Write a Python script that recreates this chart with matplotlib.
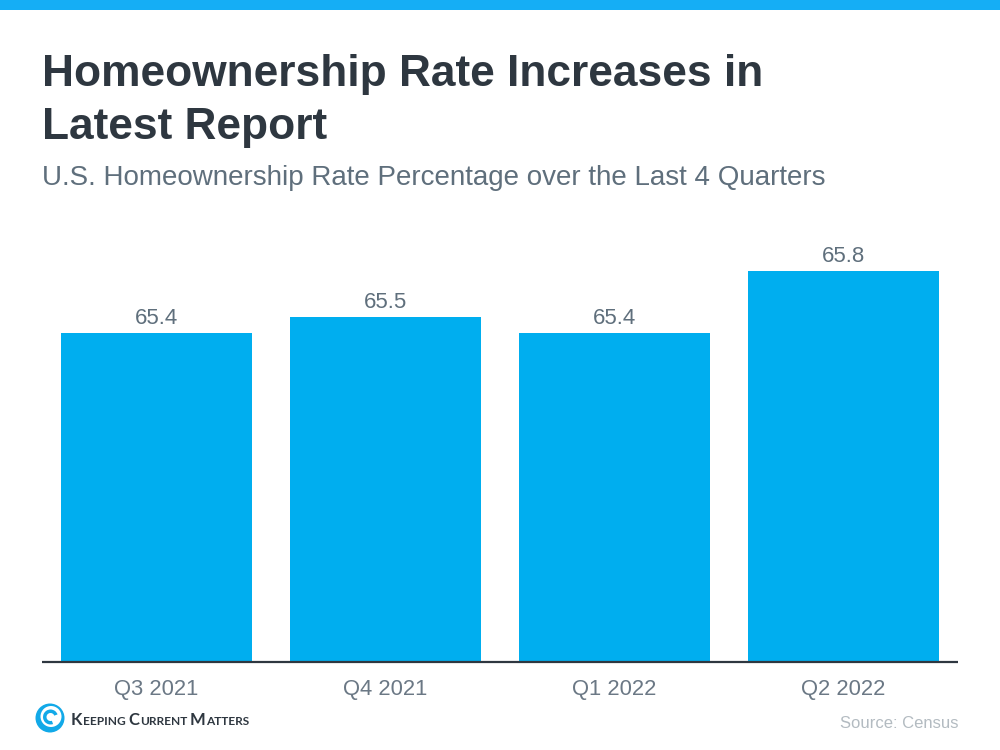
import matplotlib
matplotlib.use('Agg')
import matplotlib.pyplot as plt
from matplotlib.patches import Rectangle, Circle, Wedge

quarters = ['Q3 2021', 'Q4 2021', 'Q1 2022', 'Q2 2022']
rates = [65.4, 65.5, 65.4, 65.8]
value_labels = ['65.4', '65.5', '65.4', '65.8']

BLUE = '#00aeef'
DARK = '#2e3740'
GREY = '#5f6f7c'
TICK = '#6b7885'

plt.rcParams['font.family'] = ['Liberation Sans', 'DejaVu Sans']

fig = plt.figure(figsize=(10, 7.5), dpi=100)
W, H = 1000, 750

# top band
fig.add_artist(Rectangle((0, 1 - 10 / H), 1, 10 / H, transform=fig.transFigure, color='#15aef5', lw=0))

fig.text(42 / W, 1 - 86 / H, 'Homeownership Rate Increases in', fontsize=31.85, fontweight='bold', color=DARK)
fig.text(42 / W, 1 - 139 / H, 'Latest Report', fontsize=31.85, fontweight='bold', color=DARK)
fig.text(42 / W, 1 - 185 / H, 'U.S. Homeownership Rate Percentage over the Last 4 Quarters', fontsize=20, color=GREY)

# axes: baseline at y=662, one unit of rate is about 155 px
ax = fig.add_axes([42 / W, 1 - 662 / H, 916 / W, 422 / H])
ax.bar(range(len(quarters)), rates, width=0.834, color=BLUE, linewidth=0)
ax.set_xlim(-0.5, 3.5)
ax.set_ylim(63.277, 63.277 + 422 / 155)
ax.set_xticks(range(len(quarters)))
ax.set_xticklabels(quarters, fontsize=15.8, color=TICK)
ax.tick_params(axis='x', length=0, pad=12.5)
ax.set_yticks([])
for s in ['top', 'left', 'right']:
    ax.spines[s].set_visible(False)
ax.spines['bottom'].set_color(DARK)
ax.spines['bottom'].set_linewidth(1.6)
ax.spines['bottom'].set_capstyle('butt')
for i, v in enumerate(rates):
    ax.annotate(value_labels[i], (i, v), xytext=(0, 3), textcoords='offset points',
                ha='center', va='bottom', fontsize=16, color=GREY)

fig.text(958 / W, 1 - 728 / H, 'Source: Census', fontsize=12, color='#b3bbc1', ha='right')

# logo drawn in pixel coordinates
logo = fig.add_axes([0, 0, 1, 1], facecolor='none')
logo.set_xlim(0, W)
logo.set_ylim(H, 0)
logo.axis('off')
logo.add_patch(Circle((50, 718), 14.5, color='#12a9e8', lw=0))
logo.add_patch(Circle((51, 716.5), 10.5, color='white', lw=0))
logo.add_patch(Wedge((50.5, 717), 7.5, 70, 340, width=3.5, color='#12a9e8', lw=0))

# small caps wordmark, each piece placed after the previous one
renderer = fig.canvas.get_renderer()
x = 71
for piece, size in [('K', 12), ('EEPING ', 8.6), ('C', 12), ('URRENT ', 8.6), ('M', 12), ('ATTERS', 8.6)]:
    t = logo.text(x, 725, piece.strip(), fontsize=size, color=DARK, fontweight='bold',
                  family=['Lato', 'Liberation Sans'], va='baseline')
    x = t.get_window_extent(renderer).x1 + (3 if piece.endswith(' ') else 0.3)

fig.savefig('out.png', dpi=100)
